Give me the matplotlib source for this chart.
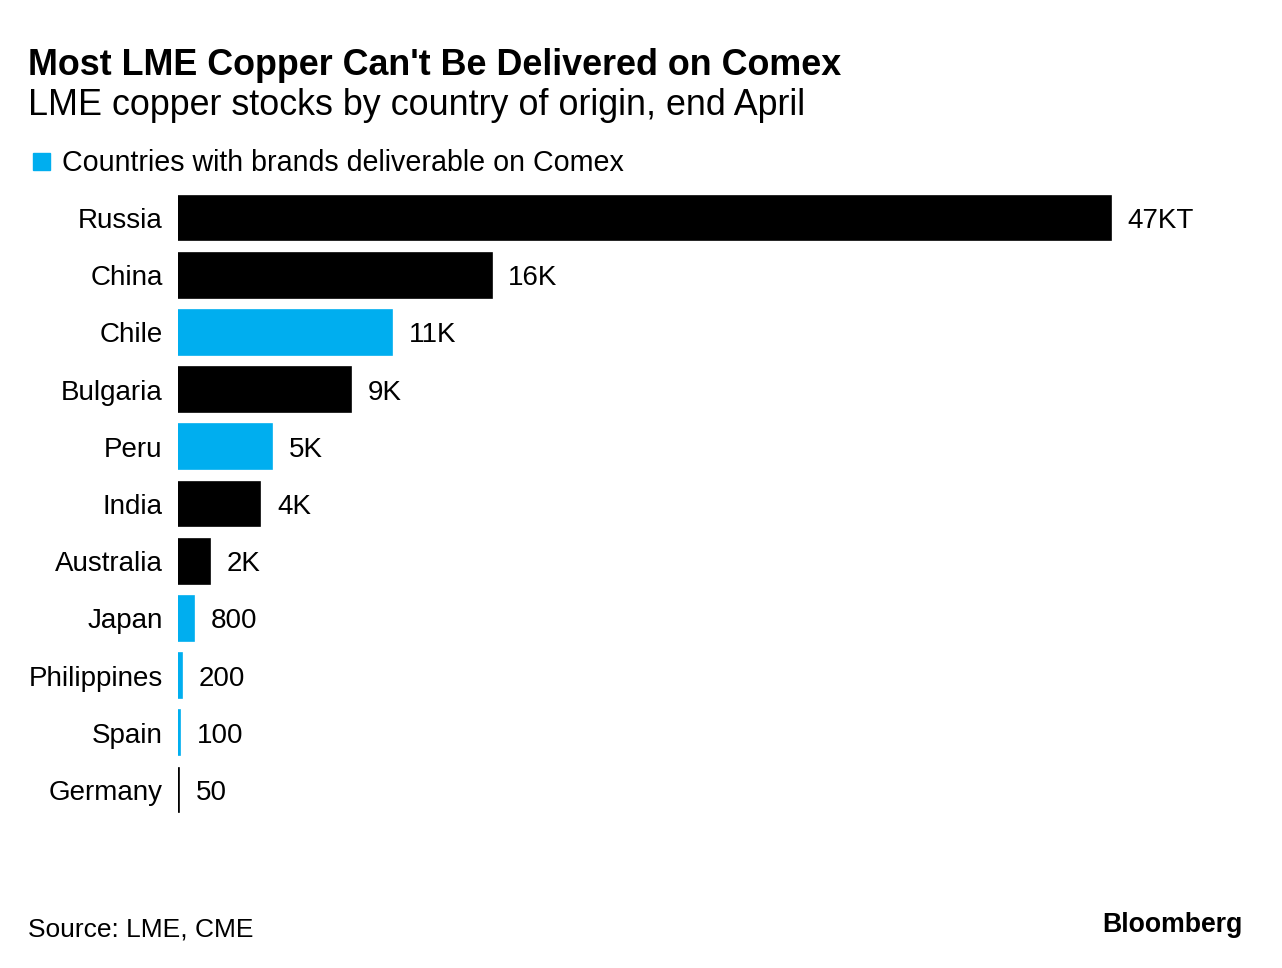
import matplotlib
matplotlib.use("Agg")
import matplotlib.pyplot as plt
import matplotlib.patches as pat

countries = ["Russia", "China", "Chile", "Bulgaria", "Peru", "India",
             "Australia", "Japan", "Philippines", "Spain", "Germany"]
stocks_kt = [47.0, 15.8, 10.8, 8.7, 4.75, 4.15, 1.6, 0.8, 0.2, 0.1, 0.05]
value_labels = ["47KT", "16K", "11K", "9K", "5K", "4K", "2K", "800", "200", "100", "50"]
comex = [False, False, True, False, True, False, False, True, True, True, False]

BLUE = "#00AEEF"
plt.rcParams['font.family'] = ['Liberation Sans', 'DejaVu Sans']

W, H = 1282, 968
fig = plt.figure(figsize=(W / 100, H / 100), dpi=100)

# axes placed in pixel terms: bars from x=178, rows centred 218..790
row = (790 - 218) / 10
top = 218 - row / 2
bot = 790 + row / 2
left, right = 178, 1240
ax = fig.add_axes([left / W, 1 - bot / H, (right - left) / W, (bot - top) / H])

xmax = 47.0 * (right - left) / (1111 - left)
ys = list(range(len(countries)))
cols = [BLUE if c else "black" for c in comex]
ax.barh(ys, stocks_kt, height=0.78, color=cols, edgecolor=cols, linewidth=1.2)

for y, v, s in zip(ys, stocks_kt, value_labels):
    ax.annotate(s, (v, y), xytext=(12, 0), textcoords="offset points",
                va="center_baseline", ha="left", fontsize=20, color="black")

ax.set_xlim(0, xmax)
ax.set_ylim(10.5, -0.5)
ax.set_yticks(ys)
ax.set_yticklabels(countries, fontsize=20, va="center_baseline")
ax.tick_params(axis="y", length=0, pad=11)
ax.set_xticks([])
for s in ax.spines.values():
    s.set_visible(False)

fig.text(28 / W, 1 - 75 / H, "Most LME Copper Can't Be Delivered on Comex",
         fontsize=25.8, fontweight="bold", va="baseline", ha="left")
fig.text(28 / W, 1 - 115 / H, "LME copper stocks by country of origin, end April",
         fontsize=25.8, va="baseline", ha="left")

fig.patches.append(pat.Rectangle((33 / W, 1 - 170 / H), 17 / W, 17 / H,
                                 transform=fig.transFigure, color=BLUE))
fig.text(62 / W, 1 - 171 / H, "Countries with brands deliverable on Comex",
         fontsize=20.6, va="baseline", ha="left")

fig.text(28 / W, 1 - 936 / H, "Source: LME, CME", fontsize=19, va="baseline", ha="left")
fig.text(1243 / W, 1 - 932 / H, "Bloomberg", fontsize=19.2, fontweight="bold",
         va="baseline", ha="right")

fig.savefig("out.png", dpi=100, facecolor="white")
